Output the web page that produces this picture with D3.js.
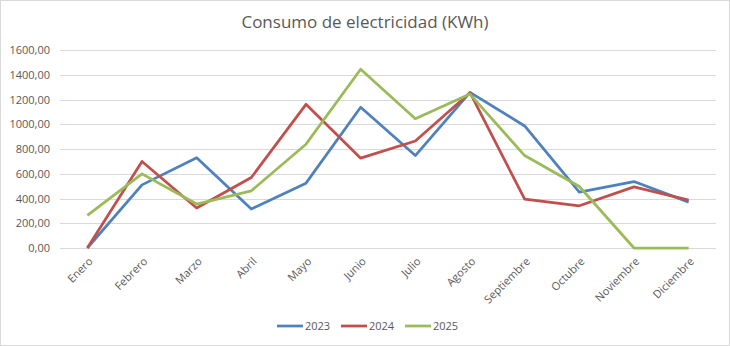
<!DOCTYPE html>
<html>
<head>
<meta charset="utf-8">
<script src="https://cdn.jsdelivr.net/npm/d3@7"></script>
<style>
  body { margin: 0; background: #fff; }
  #line-chart { width: 730px; height: 346px; }
  text { font-family: "Open Sans", "Liberation Sans", sans-serif; fill: #595959; }
</style>
</head>
<body>
<div id="line-chart"></div>
<script>
// podaci
const meses = ["Enero", "Febrero", "Marzo", "Abril", "Mayo", "Junio", "Julio",
    "Agosto", "Septiembre", "Octubre", "Noviembre", "Diciembre"];
const anios = ["2023", "2024", "2025"];
const valores2023 = [0, 510, 730, 315, 524, 1137, 747, 1258, 986, 452, 537, 371];
const valores2024 = [0, 699, 323, 570, 1161, 726, 865, 1255, 395, 341, 494, 387];
const valores2025 = [263, 599, 355, 462, 839, 1444, 1045, 1244, 747, 497, 0, 0];
const yTicks = [0, 200, 400, 600, 800, 1000, 1200, 1400, 1600];
const boje = ["#4f81bd", "#c0504d", "#9bbb59"];

const serije = [valores2023, valores2024, valores2025].map((v, i) => ({
    name: anios[i],
    color: boje[i],
    values: v.map((d, j) => ({ mes: meses[j], value: d }))
}));

// dimenzije
const dim = {
    width: 730,
    height: 346,
    margin: { top: 50, right: 14, bottom: 98, left: 60 }
};
dim.boundsWidth = dim.width - dim.margin.left - dim.margin.right;
dim.boundsHeight = dim.height - dim.margin.top - dim.margin.bottom;

const svg = d3.select("#line-chart")
    .append("svg")
    .attr("width", dim.width)
    .attr("height", dim.height);

// okvir
svg.append("rect")
    .attr("x", 0.5).attr("y", 0.5)
    .attr("width", dim.width - 1).attr("height", dim.height - 1)
    .attr("fill", "#fff")
    .attr("stroke", "#d9d9d9");

const g = svg.append("g")
    .attr("transform", `translate(${dim.margin.left},${dim.margin.top})`);

const x = d3.scaleBand()
    .domain(meses)
    .range([0, dim.boundsWidth]);

const y = d3.scaleLinear()
    .domain([0, 1600])
    .range([dim.boundsHeight, 0]);

// mreza
g.append("g")
    .selectAll("line")
    .data(yTicks)
    .join("line")
    .attr("x1", 0)
    .attr("x2", dim.boundsWidth)
    .attr("y1", d => Math.round(y(d)) + 0.5)
    .attr("y2", d => Math.round(y(d)) + 0.5)
    .attr("stroke", "#d9d9d9")
    .attr("stroke-width", 1);

// y os
const yAxis = g.append("g")
    .call(d3.axisLeft(y).tickValues(yTicks)
        .tickFormat(d => d3.format(".2f")(d).replace(".", ","))
        .tickSize(0).tickPadding(10));
yAxis.select(".domain").remove();
yAxis.selectAll("text").style("font-size", "11px").attr("fill", "#595959");

// x os
const xAxis = g.append("g")
    .attr("transform", `translate(0,${dim.boundsHeight})`)
    .call(d3.axisBottom(x).tickSize(0));
xAxis.select(".domain").remove();
xAxis.selectAll("text")
    .style("font-size", "11px")
    .attr("fill", "#595959")
    .attr("text-anchor", "end")
    .attr("dy", null)
    .attr("transform", "translate(4,12) rotate(-45)");

// linije
const linija = d3.line()
    .x(d => x(d.mes) + x.bandwidth() / 2)
    .y(d => y(d.value));

g.selectAll(".serie")
    .data(serije)
    .join("path")
    .attr("class", "serie")
    .attr("d", d => linija(d.values))
    .attr("fill", "none")
    .attr("stroke", d => d.color)
    .attr("stroke-width", 2.75)
    .attr("stroke-linejoin", "round");

// naslov
svg.append("text")
    .attr("x", dim.width / 2)
    .attr("y", 28)
    .attr("text-anchor", "middle")
    .style("font-size", "17px")
    .text("Consumo de electricidad (KWh)");

// legenda
const legenda = svg.append("g")
    .attr("transform", "translate(277,326)");
const stavka = legenda.selectAll("g")
    .data(serije)
    .join("g")
    .attr("transform", (d, i) => `translate(${i * 64},0)`);
stavka.append("line")
    .attr("x1", 0).attr("x2", 26)
    .attr("stroke", d => d.color)
    .attr("stroke-width", 2.75);
stavka.append("text")
    .attr("x", 28)
    .attr("dy", "0.35em")
    .style("font-size", "11px")
    .text(d => d.name);
</script>
</body>
</html>
